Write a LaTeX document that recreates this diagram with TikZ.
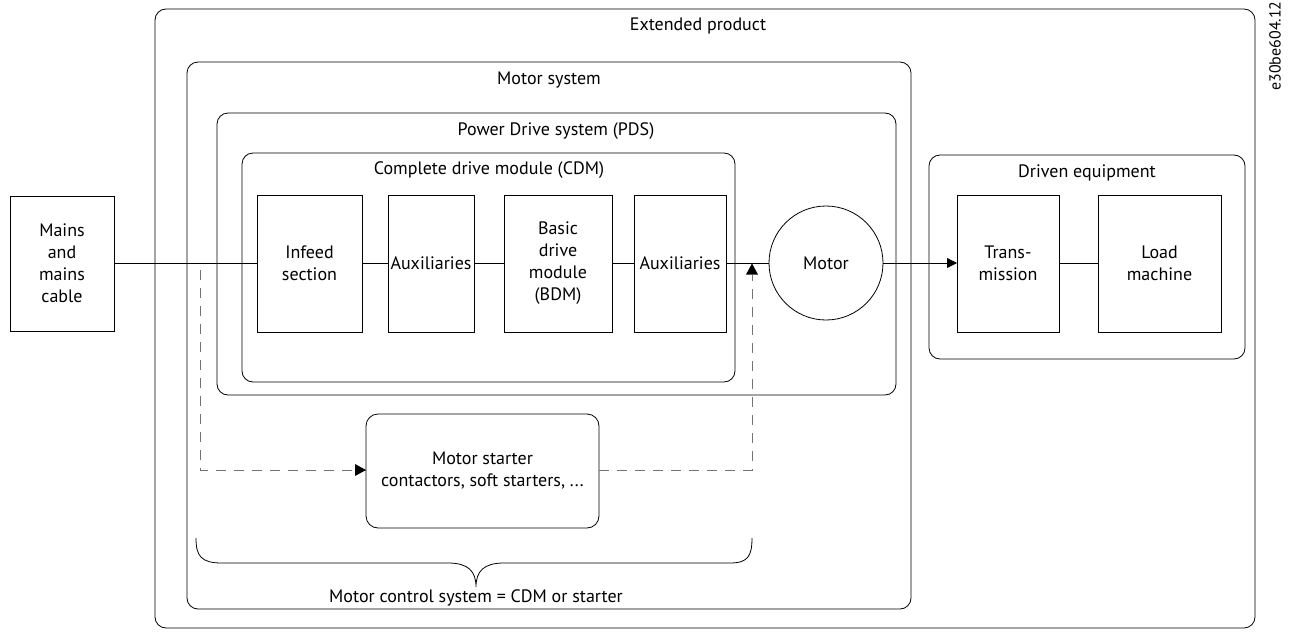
\documentclass[tikz,border=0pt]{standalone}
\usepackage{fontspec}
\setmainfont{PT Sans}
\usetikzlibrary{arrows.meta}
\begin{document}
\begin{tikzpicture}[x=1pt,y=-1pt,
  line width=0.8pt,
  every node/.style={font=\fontsize{18}{22}\selectfont, align=center},
  box/.style={draw, inner sep=0pt, outer sep=0pt},
  cont/.style={draw, rounded corners=11pt},
  lbl/.style={inner sep=0pt},
  flow/.style={draw},
  ctrl/.style={draw=black!55, dash pattern=on 10pt off 8pt},
  tip/.style={-{Triangle[length=10pt,width=10pt]}},
]
\useasboundingbox (0,0) rectangle (1291,632);
% containers
\draw[cont] (155,9) rectangle (1255,628);
\node[lbl] (ext) at (698,26) {Extended product};
\draw[cont] (187,62) rectangle (911,609);
\node[lbl] (msys) at (549,80) {Motor system};
\draw[cont] (217,113) rectangle (896,395);
\node[lbl] (pds) at (556,131) {Power Drive system (PDS)};
\draw[cont] (242,153) rectangle (735,382);
\node[lbl] (cdm) at (489,170) {Complete drive module (CDM)};
\draw[cont] (929,155) rectangle (1245,359);
\node[lbl] (deq) at (1087,173) {Driven equipment};
% boxes
\node[box, minimum width=104pt, minimum height=135pt] (mains) at (62,263.5) {Mains\\and\\mains\\cable};
\node[box, minimum width=105pt, minimum height=137pt] (infeed) at (309.5,263.5) {Infeed\\section};
\node[box, minimum width=86pt, minimum height=137pt] (aux1) at (431,263.5) {Auxiliaries};
\node[box, minimum width=108pt, minimum height=137pt] (bdm) at (558,263.5) {Basic\\drive\\module\\(BDM)};
\node[box, minimum width=92pt, minimum height=137pt] (aux2) at (680,263.5) {Auxiliaries};
\node[draw, circle, minimum size=114pt, inner sep=0pt] (motor) at (826,263) {Motor};
\node[box, minimum width=102pt, minimum height=137pt] (trans) at (1008,263.5) {Trans-\\mission};
\node[box, minimum width=123pt, minimum height=137pt] (load) at (1159.5,263.5) {Load\\machine};
\node[box, rounded corners=12pt, minimum width=233pt, minimum height=114pt] (starter) at (482.5,471) {Motor starter\\contactors, soft starters, ...};
% main flow
\coordinate (d1) at (200,270);
\coordinate (d2) at (200,470);
\coordinate (d3) at (752,470);
\coordinate (d4) at (752,263.5);
\draw[flow] (mains.east |- 0,263) -- (infeed.west |- 0,263);
\draw[flow] (infeed.east |- 0,263) -- (aux1.west |- 0,263);
\draw[flow] (aux1.east |- 0,263) -- (bdm.west |- 0,263);
\draw[flow] (bdm.east |- 0,263) -- (aux2.west |- 0,263);
\draw[flow] (aux2.east |- 0,263) -- (motor.west);
\draw[flow, tip] (motor.east) -- (trans.west |- 0,263);
\draw[flow] (trans.east |- 0,263) -- (load.west |- 0,263);
% control path
\draw[ctrl] (d1) -- (d2) -- (starter.west |- d2);
\draw[fill=black, draw=none] (starter.west |- d2) -- ++(-11,-6) -- ++(0,12) -- cycle;
\draw[ctrl] (starter.east |- d3) -- (d3) -- (752,275);
\draw[fill=black, draw=none] (d4) -- ++(-6,11) -- ++(12,0) -- cycle;
% brace
\draw (196,538) .. controls (196,556) and (201,563) .. (222,563) -- (448,563)
  .. controls (468,563) and (476,571) .. (476,587)
  .. controls (476,571) and (484,563) .. (504,563) -- (730,563)
  .. controls (748,563) and (752,556) .. (752,538);
\node[lbl] (mcs) at (476,598) {Motor control system = CDM or starter};
\node[lbl, rotate=90, font=\fontsize{16}{18}\selectfont] (code) at (1275,46) {e30be604.12};
\end{tikzpicture}
\end{document}
